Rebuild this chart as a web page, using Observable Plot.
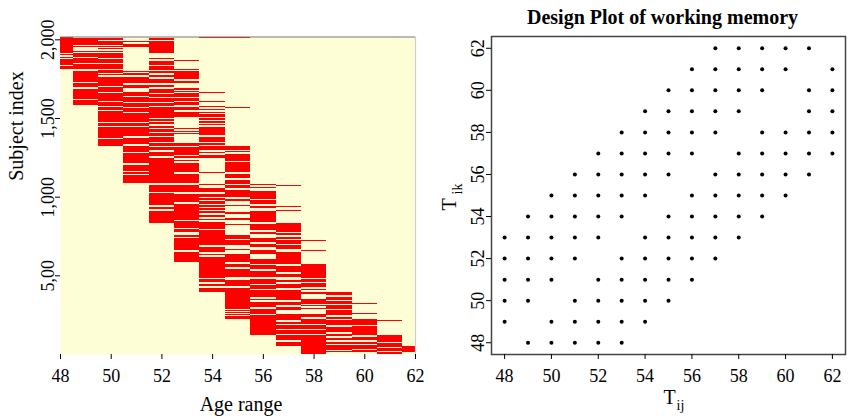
<!DOCTYPE html>
<html><head><meta charset="utf-8">
<script src="https://cdn.jsdelivr.net/npm/d3@7"></script>
<script src="https://cdn.jsdelivr.net/npm/@observablehq/plot@0.6"></script>
<style>
body{margin:0;background:#fff;}
#wrap{position:relative;width:848px;height:419px;font-family:'Liberation Serif',serif;}
#left,#right{position:absolute;top:0;}
#left{left:0;} #right{left:430px;}
#wrap svg, #wrap svg text, #wrap svg g{font-family:'Liberation Serif',serif !important;}
</style></head><body>
<div id="wrap"><div id="left"></div><div id="right"></div></div>
<script>
// ---------- Left panel data: red runs (subject index ranges) per age ----------
const ages = [48,49,50,51,52,53,54,55,56,57,58,59,60,61,62];
const runs48 = [[1915,2015],[1898,1907],[1881,1889],[1837,1873],[1811,1830]];
const runs49 = [[1962,2008],[1949,1956],[1937,1940],[1921,1928],[1889,1915],[1847,1881],[1813,1841],[1728,1798],[1695,1720],[1622,1684],[1580,1614]];
const runs50 = [[1996,2008],[1966,1989],[1949,1959],[1937,1945],[1919,1928],[1881,1911],[1847,1875],[1809,1841],[1787,1805],[1771,1781],[1703,1760],[1665,1695],[1605,1656],[1576,1599],[1550,1567],[1476,1542],[1448,1469],[1376,1440],[1323,1365]];
const runs51 = [[1983,1989],[1953,1968],[1790,1798],[1771,1784],[1720,1758],[1688,1709],[1641,1665],[1603,1635],[1569,1595],[1539,1561],[1476,1529],[1448,1469],[1383,1440],[1332,1374],[1285,1323],[1211,1276],[1162,1200],[1143,1154],[1084,1135]];
const runs52 = [[1996,2008],[1915,1989],[1873,1881],[1837,1864],[1805,1830],[1784,1797],[1762,1775],[1720,1746],[1699,1711],[1660,1682],[1635,1652],[1603,1625],[1576,1593],[1539,1567],[1501,1536],[1480,1493],[1461,1472],[1438,1450],[1412,1429],[1387,1406],[1348,1378],[1323,1340],[1296,1315],[1259,1285],[1084,1247],[1030,1075],[945,1022],[920,937],[833,912]];
const runs53 = [[1864,1870],[1805,1811],[1748,1798],[1724,1737],[1678,1688],[1663,1671],[1635,1657],[1609,1628],[1582,1603],[1550,1571],[1504,1539],[1459,1465],[1431,1438],[1408,1417],[1396,1402],[1323,1338],[1268,1315],[1247,1259],[1226,1234],[1158,1215],[1084,1147],[1030,1073],[963,1020],[850,952],[802,844],[776,793],[744,759],[659,738],[585,648]];
const runs54 = [[2010,2017],[1660,1667],[1601,1608],[1567,1576],[1548,1558],[1529,1539],[1508,1523],[1487,1501],[1469,1478],[1455,1463],[1391,1444],[1349,1380],[1328,1338],[1296,1321],[1275,1281],[1243,1264],[1151,1158],[1071,1079],[1030,1052],[998,1020],[977,992],[956,973],[937,946],[916,925],[897,908],[871,882],[850,861],[797,839],[691,787],[670,680],[648,666],[629,638],[483,617],[458,475],[430,447],[394,422]];
const runs55 = [[2010,2017],[1565,1571],[1296,1323],[1281,1289],[1228,1270],[1158,1219],[1116,1147],[1079,1105],[1052,1073],[998,1041],[973,988],[939,946],[893,903],[850,865],[818,829],[734,759],[691,723],[659,670],[585,638],[553,575],[489,543],[430,473],[288,422],[271,277],[258,265],[247,252],[220,239]];
const runs56 = [[1071,1079],[1052,1060],[986,1037],[952,977],[927,939],[839,909],[787,829],[761,776],[712,740],[680,702],[638,659],[575,606],[543,564],[489,528],[447,475],[416,437],[362,405],[341,352],[299,330],[256,288],[118,246]];
const runs57 = [[1069,1073],[935,939],[909,916],[776,833],[755,766],[734,744],[702,723],[670,691],[575,648],[521,557],[489,511],[458,473],[422,447],[341,405],[309,330],[277,298],[214,256],[193,203],[161,182],[129,150],[86,118],[48,75]];
const runs58 = [[721,727],[657,664],[485,570],[458,477],[426,451],[405,416],[379,394],[320,352],[303,309],[286,292],[235,256],[193,225],[161,182],[129,150],[0,118]];
const runs59 = [[373,394],[345,362],[320,337],[288,309],[246,277],[225,235],[182,214],[139,171],[112,129],[86,104],[61,75],[23,55],[10,16]];
const runs60 = [[318,324],[252,258],[182,225],[118,175],[86,108],[61,75],[34,55],[12,27],[4,8]];
const runs61 = [[209,216],[75,118],[46,69],[21,40],[0,14]];
const runs62 = [[12,48]];
const runsByAge = [runs48,runs49,runs50,runs51,runs52,runs53,runs54,runs55,runs56,runs57,runs58,runs59,runs60,runs61,runs62];
const subjectMax = 2018;
const subjectTicks = [500, 1000, 1500, 2000];
const subjectTickLabels = ["5,00", "1,000", "1,500", "2,000"];
const ageTicks = [48,50,52,54,56,58,60,62];

// ---------- Right panel data: design points (Tij for each Tik) ----------
const tikValues = [62,61,60,59,58,57,56,55,54,53,52,51,50,49,48];
const tijLists = [
  [57,58,59,60,61],
  [56,57,58,59,60,62],
  [55,56,57,58,59,61,62],
  [54,55,56,57,58,61,62],
  [53,54,55,56,57,59,60,61,62],
  [52,53,54,55,56,58,59,60,61,62],
  [51,52,53,54,55,57,58,59,60,61],
  [50,51,52,53,54,56,57,58,59,60],
  [49,50,51,52,53,55,56,57,58,59],
  [48,49,50,51,52,54,55,56,57,58],
  [48,49,50,51,53,54,55,56,57],
  [48,49,50,52,53,54,55,56],
  [48,49,51,52,53,54,55],
  [48,50,51,52,53,54],
  [49,50,51,52,53]
];
const tTicks = [48,50,52,54,56,58,60,62];

const heatRows = ages.flatMap((age, i) => runsByAge[i].map(([lo, hi]) => ({age, lo, hi})));
const points = tikValues.flatMap((tik, i) => tijLists[i].map(tij => ({tij, tik})));

const font = "'Liberation Serif', serif";

const left = Plot.plot({
  width: 430, height: 419,
  marginLeft: 60, marginRight: 15, marginTop: 36.5, marginBottom: 65,
  style: {fontFamily: font, fontSize: "18px", background: "transparent", overflow: "visible", color: "#000"},
  x: {domain: [48, 62], axis: null},
  y: {domain: [0, subjectMax], axis: null},
  marks: [
    Plot.frame({fill: "#FEFED6", stroke: null}),
    Plot.rect(heatRows, {x1: d => d.age - 0.5, x2: d => d.age + 0.5, y1: "lo", y2: "hi", fill: "#FF0000", clip: true, shapeRendering: "crispEdges"}),
    Plot.ruleY([subjectMax], {stroke: "#777", strokeWidth: 1.2}),
    Plot.ruleX([62], {stroke: "#ccc", strokeWidth: 1.2}),
    Plot.axisX({ticks: ageTicks, tickSize: 5, tickPadding: 10, label: null, fontSize: 18}),
    Plot.axisY({ticks: subjectTicks, tickFormat: (d, i) => subjectTickLabels[i], tickSize: 5, tickRotate: -90, tickPadding: 2, label: null, fontSize: 18}),
    Plot.text(["Age range"], {frameAnchor: "bottom", dx: 3, dy: 56, lineAnchor: "bottom", fontSize: 20}),
    Plot.text(["Subject index"], {frameAnchor: "left", rotate: -90, dx: -38, dy: -15, lineAnchor: "bottom", fontSize: 20})
  ]
});
document.getElementById("left").appendChild(left);

const right = Plot.plot({
  width: 418, height: 419,
  marginLeft: 61, marginRight: 3, marginTop: 36, marginBottom: 65,
  style: {fontFamily: font, fontSize: "18px", background: "transparent", overflow: "visible", color: "#000"},
  x: {domain: [47.44, 62.56], axis: null},
  y: {domain: [47.44, 62.56], axis: null},
  marks: [
    Plot.frame({stroke: "#444", strokeWidth: 1.5}),
    Plot.dot(points, {x: "tij", y: "tik", r: 2, fill: "#000", stroke: null}),
    Plot.axisX({ticks: tTicks, tickSize: 5, tickPadding: 10, label: null, fontSize: 18}),
    Plot.axisY({ticks: tTicks, tickSize: 5, tickRotate: -90, tickPadding: 3, label: null, fontSize: 18}),
    Plot.text(["Design Plot of working memory"], {frameAnchor: "top", dx: -6, dy: -13, lineAnchor: "bottom", fontSize: 20, fontWeight: "bold"}),
    Plot.text(["T"], {frameAnchor: "bottom", dx: -5, dy: 49, lineAnchor: "bottom", textAnchor: "start", fontSize: 20}),
    Plot.text(["ij"], {frameAnchor: "bottom", dx: 8, dy: 55, lineAnchor: "bottom", textAnchor: "start", fontSize: 14}),
    Plot.text(["T"], {frameAnchor: "left", rotate: -90, dx: -36, dy: 15, lineAnchor: "bottom", textAnchor: "start", fontSize: 20}),
    Plot.text(["ik"], {frameAnchor: "left", rotate: -90, dx: -30, dy: -1, lineAnchor: "bottom", textAnchor: "start", fontSize: 14})
  ]
});
document.getElementById("right").appendChild(right);
</script>
</body></html>
